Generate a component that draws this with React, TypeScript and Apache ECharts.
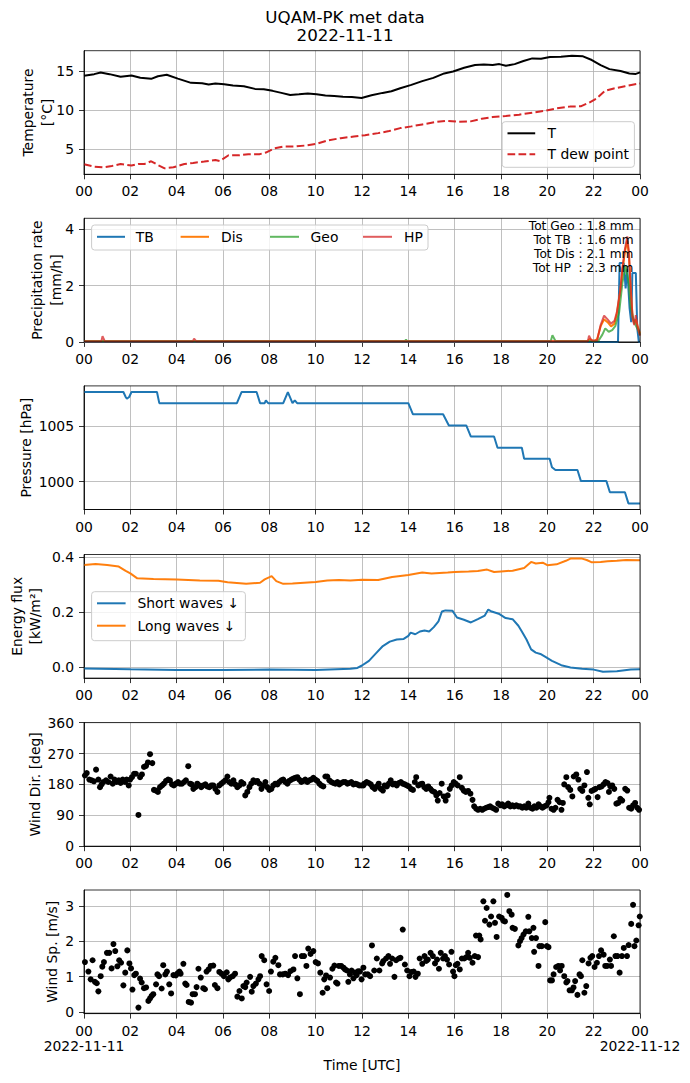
import React, { useEffect, useRef } from 'react';
import * as echarts from 'echarts';

// ---------------- DATA ----------------
const hourTicks = [0, 2, 4, 6, 8, 10, 12, 14, 16, 18, 20, 22, 24];
const dateLabels = ['2022-11-11', '2022-11-12'];

const tempT: number[][] = [[0,14.36],[0.44,14.57],[0.72,14.79],[1.1,14.57],[1.58,14.23],[2.05,14.4],[2.43,14.1],[2.9,13.97],[3.19,14.3],[3.57,14.49],[4.05,14.0],[4.62,13.46],[5.1,13.42],[5.38,13.25],[5.67,13.38],[6.05,13.29],[6.43,13.12],[6.9,13.03],[7.38,12.69],[7.76,12.65],[8.14,12.44],[8.52,12.18],[8.9,11.92],[9.28,12.0],[9.66,12.1],[10.04,12.0],[10.42,11.84],[10.8,11.79],[11.18,11.7],[11.56,11.67],[11.98,11.54],[12.41,11.88],[12.89,12.18],[13.27,12.39],[13.65,12.78],[14.13,13.2],[14.6,13.68],[15.08,14.1],[15.55,14.66],[15.93,14.91],[16.41,15.38],[16.88,15.73],[17.26,15.81],[17.64,15.73],[17.93,15.85],[18.21,15.64],[18.59,15.85],[18.97,16.24],[19.35,16.58],[19.73,16.54],[20.11,16.75],[20.59,16.79],[21.06,16.92],[21.54,16.84],[21.92,16.37],[22.3,15.73],[22.68,15.21],[23.16,14.96],[23.54,14.66],[23.82,14.6],[24,14.79]];

const tempDew: number[][] = [[0,3.08],[0.44,2.78],[0.82,2.69],[1.2,2.86],[1.58,3.12],[2.05,2.91],[2.34,3.12],[2.62,3.12],[2.9,3.46],[3.19,2.99],[3.48,2.56],[3.86,2.69],[4.33,3.12],[4.71,3.25],[5.19,3.42],[5.67,3.63],[5.86,3.5],[6.24,4.23],[6.71,4.23],[7.09,4.36],[7.57,4.36],[7.85,4.57],[8.23,5.13],[8.61,5.34],[9.09,5.34],[9.56,5.47],[10.04,5.68],[10.51,6.11],[11.08,6.41],[11.65,6.62],[12.13,6.79],[12.7,7.05],[13.17,7.31],[13.65,7.69],[14.13,7.91],[14.6,8.16],[15.17,8.46],[15.65,8.63],[16.12,8.5],[16.69,8.55],[17.17,8.89],[17.64,9.1],[18.21,9.23],[18.78,9.4],[19.35,9.66],[19.92,9.91],[20.4,10.21],[20.97,10.43],[21.44,10.47],[21.83,10.98],[22.11,11.45],[22.49,12.44],[22.87,12.74],[23.35,13.03],[23.73,13.25],[24,13.38]];

const precipTB: number[][] = [[0,0],[23.05,0],[23.12,2.8],[23.3,2.8],[23.38,1.9],[23.45,2.6],[23.55,1.2],[23.62,0.7],[23.67,2.45],[23.82,2.45],[23.88,0.5],[23.95,0],[24,0]];
const precipDis: number[][] = [[0,0.02],[21.7,0.02],[21.85,0.1],[22.0,0.02],[22.15,0.1],[22.3,0.55],[22.45,0.8],[22.6,0.7],[22.75,0.55],[22.9,0.65],[23.0,1.0],[23.15,1.8],[23.25,2.6],[23.35,3.2],[23.45,3.6],[23.52,3.1],[23.6,1.8],[23.68,0.9],[23.75,0.65],[23.82,0.8],[23.9,0.55],[24,0.3]];
const precipGeo: number[][] = [[0,0.03],[13.85,0.03],[13.9,0.08],[13.95,0.03],[20.15,0.03],[20.22,0.24],[20.35,0.03],[22.2,0.03],[22.37,0.25],[22.5,0.48],[22.65,0.36],[22.8,0.42],[22.94,0.57],[23.1,1.05],[23.24,2.1],[23.38,2.7],[23.52,2.05],[23.6,1.2],[23.75,0.7],[23.9,0.45],[24,0.25]];
const precipHP: number[][] = [[0,0.02],[0.75,0.02],[0.8,0.2],[0.9,0.02],[4.7,0.02],[4.75,0.12],[4.85,0.02],[21.75,0.02],[21.8,0.22],[21.9,0.05],[22.15,0.05],[22.3,0.6],[22.45,0.93],[22.6,0.8],[22.75,0.65],[22.9,0.75],[23.0,1.05],[23.15,1.85],[23.25,2.7],[23.35,3.3],[23.45,3.75],[23.52,3.2],[23.6,1.9],[23.68,0.85],[23.75,0.6],[23.82,0.95],[23.9,0.5],[24,0.22]];
const precipTotals = ['Tot Geo : 1.8 mm', 'Tot TB  : 1.6 mm', 'Tot Dis : 2.1 mm', 'Tot HP  : 2.3 mm'];

const pressTime = [0,1.7,1.8,1.85,1.95,2.05,3.15,3.25,6.6,6.8,7.45,7.6,7.8,7.85,7.95,8.6,8.8,9.0,9.1,9.2,14.0,14.2,15.5,15.75,16.5,16.7,17.7,17.85,18.9,19.0,20.1,20.2,20.35,21.3,21.45,22.55,22.7,23.35,23.5,24];
const pressVal = [1008.05,1008.05,1007.6,1007.45,1007.6,1008.05,1008.05,1007.05,1007.05,1008.05,1008.05,1007.05,1007.05,1007.3,1007.05,1007.05,1008.05,1007.05,1007.3,1007.05,1007.05,1006.05,1006.05,1005.05,1005.05,1004.05,1004.05,1003.05,1003.05,1002.05,1002.05,1001.3,1001.05,1001.05,1000.05,1000.05,999.05,999.05,998.05,998.05];

const shortWaves: number[][] = [[0,-0.006],[2,-0.009],[4,-0.011],[6,-0.011],[8,-0.01],[10,-0.011],[11.5,-0.007],[11.8,-0.004],[12.0,0.005],[12.3,0.022],[12.6,0.049],[12.9,0.076],[13.2,0.092],[13.5,0.1],[13.8,0.102],[14.0,0.113],[14.1,0.125],[14.3,0.119],[14.5,0.129],[14.7,0.133],[14.9,0.129],[15.1,0.145],[15.3,0.166],[15.45,0.202],[15.6,0.206],[15.9,0.205],[16.1,0.18],[16.4,0.172],[16.7,0.162],[17.0,0.174],[17.3,0.187],[17.45,0.209],[17.6,0.202],[17.9,0.194],[18.2,0.178],[18.5,0.174],[18.75,0.15],[18.9,0.129],[19.1,0.1],[19.3,0.064],[19.5,0.052],[19.7,0.047],[19.9,0.037],[20.2,0.022],[20.6,0.006],[21.0,-0.002],[21.5,-0.007],[22.0,-0.01],[22.4,-0.018],[23.0,-0.016],[23.6,-0.01],[24,-0.009]];
const longWaves: number[][] = [[0,0.372],[0.5,0.375],[1.0,0.372],[1.5,0.366],[1.8,0.35],[2.0,0.341],[2.3,0.323],[3,0.321],[4,0.319],[5,0.315],[5.8,0.314],[6.2,0.309],[7.0,0.303],[7.6,0.307],[7.8,0.319],[8.1,0.331],[8.3,0.313],[8.6,0.303],[9.0,0.304],[9.5,0.307],[10.0,0.31],[10.5,0.315],[11.0,0.317],[11.5,0.315],[12.0,0.318],[12.7,0.317],[13.3,0.328],[14.0,0.335],[14.6,0.344],[15.0,0.341],[15.7,0.344],[16.0,0.346],[16.6,0.348],[17.0,0.35],[17.4,0.355],[17.7,0.346],[18.0,0.348],[18.5,0.351],[19.0,0.361],[19.3,0.383],[19.5,0.377],[19.8,0.38],[20.0,0.371],[20.4,0.374],[20.8,0.387],[21.0,0.395],[21.5,0.395],[21.7,0.39],[21.9,0.382],[22.3,0.383],[22.6,0.385],[23.0,0.387],[23.4,0.39],[24,0.389]];

const windDir: number[][] = [[0.04,206],[0.12,213],[0.23,194],[0.33,192],[0.43,189],[0.52,223],[0.62,194],[0.69,172],[0.76,180],[0.83,187],[0.95,192],[1.05,187],[1.15,203],[1.24,182],[1.32,194],[1.41,187],[1.5,192],[1.58,184],[1.67,194],[1.77,187],[1.84,194],[1.93,177],[1.99,194],[2.07,201],[2.16,211],[2.24,211],[2.35,91],[2.42,201],[2.5,209],[2.59,231],[2.68,234],[2.76,244],[2.85,268],[2.95,242],[3.02,164],[3.11,162],[3.19,158],[3.28,172],[3.37,177],[3.45,182],[3.54,190],[3.63,194],[3.71,192],[3.8,180],[3.88,177],[3.97,182],[4.06,187],[4.14,182],[4.23,182],[4.32,187],[4.4,192],[4.5,233],[4.58,182],[4.65,180],[4.72,167],[4.81,172],[4.89,182],[4.98,177],[5.06,172],[5.15,177],[5.24,180],[5.32,174],[5.41,172],[5.5,177],[5.58,177],[5.67,167],[5.76,158],[5.84,177],[5.93,182],[6.01,187],[6.1,192],[6.19,203],[6.27,187],[6.36,182],[6.45,192],[6.53,180],[6.62,172],[6.71,177],[6.79,187],[6.88,182],[6.96,148],[7.05,158],[7.14,172],[7.22,182],[7.31,192],[7.4,187],[7.48,190],[7.57,182],[7.66,167],[7.74,177],[7.83,187],[7.91,172],[8.0,164],[8.09,167],[8.17,177],[8.26,182],[8.35,180],[8.43,187],[8.52,192],[8.6,194],[8.69,187],[8.78,182],[8.86,190],[8.95,194],[9.04,197],[9.12,199],[9.21,201],[9.29,194],[9.38,187],[9.47,190],[9.55,194],[9.64,187],[9.73,192],[9.81,194],[9.9,199],[9.99,194],[10.07,190],[10.16,182],[10.24,177],[10.33,174],[10.42,203],[10.5,203],[10.59,192],[10.68,187],[10.76,184],[10.85,182],[10.94,187],[11.02,180],[11.11,184],[11.19,187],[11.28,187],[11.37,182],[11.45,184],[11.54,187],[11.63,180],[11.71,182],[11.8,180],[11.88,177],[11.97,177],[12.06,177],[12.1,182],[12.2,187],[12.29,184],[12.38,180],[12.46,172],[12.55,167],[12.64,174],[12.72,182],[12.81,167],[12.9,162],[12.98,177],[13.07,174],[13.16,182],[13.24,192],[13.33,180],[13.42,182],[13.5,177],[13.59,184],[13.68,187],[13.76,182],[13.85,180],[13.94,177],[14.02,174],[14.11,167],[14.2,164],[14.28,187],[14.34,201],[14.43,177],[14.51,180],[14.6,182],[14.69,172],[14.77,167],[14.86,174],[14.95,167],[15.03,161],[15.12,158],[15.21,148],[15.27,133],[15.35,155],[15.44,182],[15.53,145],[15.61,133],[15.7,148],[15.79,167],[15.87,177],[15.96,187],[16.04,182],[16.13,177],[16.22,201],[16.31,170],[16.39,162],[16.48,158],[16.58,161],[16.68,153],[16.77,135],[16.84,116],[16.93,109],[17.01,106],[17.1,109],[17.19,106],[17.27,109],[17.36,112],[17.45,114],[17.53,116],[17.62,112],[17.71,109],[17.79,106],[17.88,124],[17.97,119],[18.05,122],[18.14,116],[18.23,119],[18.31,124],[18.4,116],[18.49,119],[18.57,116],[18.66,119],[18.75,116],[18.83,116],[18.92,112],[19.01,116],[19.09,112],[19.18,124],[19.27,112],[19.36,109],[19.44,116],[19.53,112],[19.62,122],[19.7,116],[19.79,112],[19.88,116],[19.97,119],[20.05,128],[20.09,141],[20.18,109],[20.27,106],[20.35,112],[20.44,135],[20.53,128],[20.61,106],[20.67,126],[20.73,180],[20.82,201],[20.9,172],[20.99,164],[21.08,145],[21.14,203],[21.25,209],[21.34,194],[21.42,167],[21.51,161],[21.6,177],[21.71,216],[21.77,141],[21.83,122],[21.91,161],[22.0,164],[22.08,167],[22.17,143],[22.25,172],[22.34,174],[22.43,180],[22.51,187],[22.6,184],[22.66,158],[22.72,174],[22.8,177],[22.89,167],[22.98,124],[23.06,126],[23.15,138],[23.23,133],[23.36,167],[23.45,162],[23.53,112],[23.62,109],[23.7,119],[23.79,126],[23.88,112],[23.96,106]];

const windSp: number[][] = [[0.04,1.41],[0.19,1.14],[0.29,0.92],[0.37,1.46],[0.47,0.85],[0.55,0.81],[0.62,0.58],[0.72,1.01],[0.79,1.28],[0.86,1.41],[0.99,1.67],[1.09,1.67],[1.19,1.23],[1.27,1.92],[1.35,1.72],[1.44,1.29],[1.52,1.46],[1.6,1.39],[1.7,0.75],[1.78,1.11],[1.87,1.74],[1.96,1.37],[2.03,1.23],[2.09,0.63],[2.17,1.04],[2.24,1.08],[2.35,0.12],[2.42,0.94],[2.49,0.83],[2.59,0.67],[2.68,0.69],[2.78,0.31],[2.85,0.38],[2.92,0.45],[2.99,0.5],[3.11,0.78],[3.17,1.06],[3.24,1.01],[3.35,0.66],[3.42,1.32],[3.51,1.06],[3.58,1.14],[3.68,0.78],[3.76,0.52],[3.86,1.04],[3.96,1.03],[4.04,1.09],[4.12,1.14],[4.17,1.08],[4.29,1.36],[4.37,0.8],[4.43,0.76],[4.52,0.28],[4.62,0.26],[4.69,0.5],[4.79,0.5],[4.86,0.7],[4.94,1.22],[5.04,0.97],[5.15,0.67],[5.22,0.64],[5.29,1.14],[5.38,1.2],[5.47,1.3],[5.58,1.31],[5.65,0.76],[5.76,0.67],[5.84,1.13],[5.94,1.08],[6.04,1.01],[6.16,1.12],[6.23,0.92],[6.3,0.97],[6.42,1.01],[6.52,1.08],[6.62,0.43],[6.71,0.59],[6.81,0.38],[6.88,0.73],[6.96,0.7],[7.02,0.83],[7.17,0.99],[7.24,0.57],[7.31,0.73],[7.42,0.8],[7.53,0.92],[7.6,1.01],[7.67,1.58],[7.78,1.46],[7.88,0.78],[7.99,0.59],[8.07,1.14],[8.17,1.42],[8.26,1.53],[8.39,1.32],[8.46,1.06],[8.58,1.06],[8.69,1.08],[8.81,1.04],[8.91,1.15],[9.04,1.2],[9.11,1.58],[9.21,0.95],[9.32,0.5],[9.4,1.58],[9.5,1.58],[9.6,1.3],[9.68,1.79],[9.78,1.64],[9.9,1.72],[10.0,1.41],[10.1,1.37],[10.2,1.11],[10.3,0.54],[10.37,0.92],[10.45,1.03],[10.5,0.67],[10.62,0.97],[10.72,1.22],[10.81,1.31],[10.88,0.83],[10.94,0.8],[11.0,1.3],[11.1,1.3],[11.2,1.25],[11.27,1.2],[11.35,1.17],[11.41,0.85],[11.48,1.06],[11.55,1.17],[11.63,0.95],[11.7,1.11],[11.77,1.04],[11.84,1.15],[11.91,1.14],[11.98,0.92],[12.06,1.25],[12.14,1.06],[12.25,1.06],[12.35,1.01],[12.43,1.88],[12.53,1.17],[12.64,1.51],[12.75,1.17],[12.87,1.37],[12.92,1.44],[13.04,1.51],[13.14,1.58],[13.21,1.36],[13.3,1.51],[13.4,0.99],[13.47,1.46],[13.59,1.51],[13.66,1.53],[13.76,2.33],[13.85,1.34],[13.95,1.17],[14.05,1.01],[14.14,1.13],[14.23,1.14],[14.31,0.99],[14.41,1.08],[14.49,1.51],[14.6,1.36],[14.7,1.58],[14.77,1.44],[14.84,1.48],[14.96,1.67],[15.06,1.58],[15.15,1.37],[15.24,1.48],[15.32,1.22],[15.4,1.67],[15.5,1.51],[15.58,1.58],[15.67,1.48],[15.76,1.34],[15.86,1.7],[15.93,1.14],[15.99,1.01],[16.05,1.32],[16.12,1.36],[16.22,1.2],[16.31,1.51],[16.41,1.51],[16.51,1.55],[16.58,1.67],[16.66,1.53],[16.77,1.39],[16.87,1.58],[16.92,2.16],[17.01,1.55],[17.06,2.16],[17.12,2.05],[17.24,3.13],[17.31,2.58],[17.38,2.94],[17.5,2.47],[17.57,2.7],[17.67,3.13],[17.74,2.52],[17.81,2.12],[17.92,2.7],[18.03,2.66],[18.1,2.58],[18.17,2.56],[18.27,3.31],[18.36,2.85],[18.46,2.75],[18.5,2.38],[18.6,2.35],[18.75,1.88],[18.82,2.0],[18.89,2.09],[18.97,2.19],[19.07,2.28],[19.18,2.69],[19.22,2.28],[19.33,2.09],[19.4,2.38],[19.43,1.7],[19.51,2.09],[19.62,1.3],[19.66,1.86],[19.76,1.86],[19.91,2.54],[19.98,1.86],[20.05,1.83],[20.12,0.89],[20.2,0.89],[20.27,1.06],[20.38,1.27],[20.48,1.3],[20.55,1.17],[20.62,1.3],[20.73,1.01],[20.82,0.83],[20.87,0.87],[20.96,0.61],[21.06,0.61],[21.13,0.69],[21.2,0.87],[21.3,0.48],[21.39,1.06],[21.45,1.01],[21.51,1.46],[21.6,0.54],[21.68,0.73],[21.78,1.37],[21.86,1.53],[21.94,1.58],[22.04,1.27],[22.14,1.39],[22.23,1.58],[22.32,1.74],[22.43,1.62],[22.5,1.3],[22.58,1.3],[22.7,1.48],[22.75,1.3],[22.87,2.14],[22.94,1.58],[23.03,1.58],[23.12,1.11],[23.22,1.58],[23.3,1.81],[23.44,1.58],[23.51,1.89],[23.62,2.49],[23.7,3.03],[23.76,1.86],[23.84,2.02],[23.94,2.45],[23.99,2.7]];

const yTicks1 = [5, 10, 15];
const yTicks2 = [0, 2, 4];
const yTicks3 = [1000, 1005];
const yTicks4 = [0, 0.2, 0.4];
const yTicks5 = [0, 90, 180, 270, 360];
const yTicks6 = [0, 1, 2, 3];

// ---------------- LAYOUT ----------------
const FONT = 'DejaVu Sans';
const FS = 13.9;
const LEFT = 84;
const RIGHT = 640;
const TOPS = [50.7, 218.3, 385.9, 554.5, 722.6, 890];
const H = 123.6;

const yRanges = [
  { min: 1.8, max: 17.56, ticks: yTicks1, fmt: (v: number) => String(v) },
  { min: 0, max: 4.39, ticks: yTicks2, fmt: (v: number) => String(v) },
  { min: 997.5, max: 1008.6, ticks: yTicks3, fmt: (v: number) => String(v) },
  { min: -0.041, max: 0.41, ticks: yTicks4, fmt: (v: number) => v.toFixed(1) },
  { min: 0, max: 360, ticks: yTicks5, fmt: (v: number) => String(v) },
  { min: -0.05, max: 3.45, ticks: yTicks6, fmt: (v: number) => String(v) },
];

const pad2 = (v: number) => String(Math.round(v) % 24).padStart(2, '0');

function buildOption() {
  const grid = TOPS.map((t) => ({
    left: LEFT, width: RIGHT - LEFT, top: t, height: H,
    show: true, borderColor: '#000', borderWidth: 0.8, backgroundColor: 'transparent', z: 5,
  }));
  const axisLine = { show: true, onZero: false, lineStyle: { color: '#000', width: 0.8 } };
  const tickBase = { show: true, inside: false, length: 5, lineStyle: { color: '#000', width: 0.8 } };
  const splitLine = { show: true, lineStyle: { color: '#b0b0b0', width: 0.8 } };
  const xAxis = TOPS.map((_, i) => ({
    type: 'value', gridIndex: i, min: 0, max: 24, interval: 2,
    axisLine, splitLine,
    axisTick: { ...tickBase, customValues: hourTicks },
    axisLabel: {
      color: '#000', fontSize: FS, fontFamily: FONT, margin: 10,
      showMinLabel: true, showMaxLabel: true, hideOverlap: false,
      customValues: hourTicks,
      formatter: (v: number) => pad2(v),
    },
  }));
  const yAxis = yRanges.map((r) => ({
    type: 'value', gridIndex: yRanges.indexOf(r), min: r.min, max: r.max,
    axisLine, splitLine,
    axisTick: { ...tickBase, customValues: r.ticks },
    axisLabel: {
      color: '#000', fontSize: FS, fontFamily: FONT, margin: 10,
      showMinLabel: true, showMaxLabel: true, customValues: r.ticks, formatter: r.fmt,
    },
  }));

  const line = (name: string, xi: number, data: number[][], color: string, extra: any = {}) => ({
    name, type: 'line', xAxisIndex: xi, yAxisIndex: xi, data, showSymbol: false, symbol: 'none',
    lineStyle: { color, width: 2, ...(extra.lineStyle || {}) }, itemStyle: { color }, z: 2, clip: true,
  });

  const series: any[] = [
    line('T', 0, tempT, '#000000'),
    line('T dew point', 0, tempDew, '#d62728', { lineStyle: { type: [7.7, 3.3] } }),
    line('TB', 1, precipTB, '#1f77b4'),
    line('Dis', 1, precipDis, '#ff7f0e'),
    line('Geo', 1, precipGeo, '#2ca02c', { lineStyle: { opacity: 0.75 } }),
    line('HP', 1, precipHP, '#d62728', { lineStyle: { opacity: 0.75 } }),
    line('Pressure', 2, pressTime.map((t, k) => [t, pressVal[k]]), '#1f77b4'),
    line('Short waves ↓', 3, shortWaves, '#1f77b4'),
    line('Long waves ↓', 3, longWaves, '#ff7f0e'),
    { name: 'Wind Dir', type: 'scatter', xAxisIndex: 4, yAxisIndex: 4, data: windDir, symbolSize: 6, itemStyle: { color: '#000', opacity: 1 }, clip: true },
    { name: 'Wind Sp', type: 'scatter', xAxisIndex: 5, yAxisIndex: 5, data: windSp, symbolSize: 6, itemStyle: { color: '#000', opacity: 1 }, clip: true },
  ];

  const txt = (text: string, x: number, y: number, opts: any = {}) => ({
    type: 'text', x, y, rotation: opts.rotation || 0, z: 100,
    style: {
      text, fill: '#000', fontSize: opts.fontSize || FS, fontFamily: FONT,
      lineHeight: opts.lineHeight,
      textAlign: opts.align || 'center', textVerticalAlign: 'middle',
      align: opts.align || 'center', verticalAlign: 'middle',
    },
  });
  const rot = { rotation: Math.PI / 2 };
  const mid = (i: number) => TOPS[i] + H / 2;

  const legendBox = (x: number, y: number, w: number, h: number) => ({
    type: 'rect', z: 90, shape: { x, y, width: w, height: h, r: 3 },
    style: { fill: 'rgba(255,255,255,0.8)', stroke: '#cccccc', lineWidth: 1 },
  });
  const handle = (x1: number, x2: number, y: number, color: string, extra: any = {}) => ({
    type: 'line', z: 95, shape: { x1, y1: y, x2, y2: y },
    style: { stroke: color, lineWidth: 2, opacity: extra.opacity ?? 1, lineDash: extra.dash },
  });

  const graphic: any[] = [
    txt('UQAM-PK met data', 345, 16.5, { fontSize: 16.7 }),
    txt('2022-11-11', 345, 34.5, { fontSize: 16.7 }),
    txt('Temperature', 27.5, mid(0), rot),
    txt('[°C]', 46.5, mid(0), rot),
    txt('Precipitation rate', 37, mid(1), rot),
    txt('[mm/h]', 56, mid(1), rot),
    txt('Pressure [hPa]', 26, mid(2), rot),
    txt('Energy flux', 17, mid(3), rot),
    txt('[kW/m²]', 35, mid(3), rot),
    txt('Wind Dir. [deg]', 34.5, mid(4), rot),
    txt('Wind Sp. [m/s]', 52, mid(5), rot),
    txt(dateLabels[0], LEFT, 1045.5),
    txt(dateLabels[1], RIGHT, 1045.5),
    txt('Time [UTC]', 362, 1065),
    // precipitation totals
    ...precipTotals.map((s, k) => txt(s, 633.5, 225.8 + k * 14.1, { align: 'right', fontSize: 12.2 })),
    // legend 1
    legendBox(502.2, 121.7, 132.2, 45.6),
    handle(507.5, 535.2, 133.3, '#000'),
    txt('T', 547.6, 133.3, { align: 'left' }),
    handle(507.5, 535.2, 154.3, '#d62728', { dash: [7.7, 3.3] }),
    txt('T dew point', 547.6, 154.3, { align: 'left' }),
    // legend 2
    legendBox(91.6, 225, 336.4, 25),
    handle(97, 125, 236.8, '#1f77b4'),
    txt('TB', 135.7, 236.8, { align: 'left' }),
    handle(180.6, 209, 236.8, '#ff7f0e'),
    txt('Dis', 221, 236.8, { align: 'left' }),
    handle(270, 299, 236.8, '#2ca02c', { opacity: 0.75 }),
    txt('Geo', 310.6, 236.8, { align: 'left' }),
    handle(363, 392, 236.8, '#d62728', { opacity: 0.75 }),
    txt('HP', 404, 236.8, { align: 'left' }),
    // legend 4
    legendBox(91.6, 591.7, 153.8, 49),
    handle(97, 125.6, 603.3, '#1f77b4'),
    txt('Short waves ↓', 137.4, 603.3, { align: 'left' }),
    handle(97, 125.6, 625.7, '#ff7f0e'),
    txt('Long waves ↓', 137.4, 625.7, { align: 'left' }),
  ];

  return {
    animation: false,
    backgroundColor: '#ffffff',
    textStyle: { fontFamily: FONT },
    grid, xAxis, yAxis, series, graphic,
  };
}

export default function App() {
  const ref = useRef<HTMLDivElement>(null);
  useEffect(() => {
    document.body.style.margin = '0';
    const chart = echarts.init(ref.current as HTMLDivElement, null, { renderer: 'svg' });
    chart.setOption(buildOption() as any);
    return () => chart.dispose();
  }, []);
  return <div ref={ref} style={{ width: 690, height: 1083 }} />;
}
